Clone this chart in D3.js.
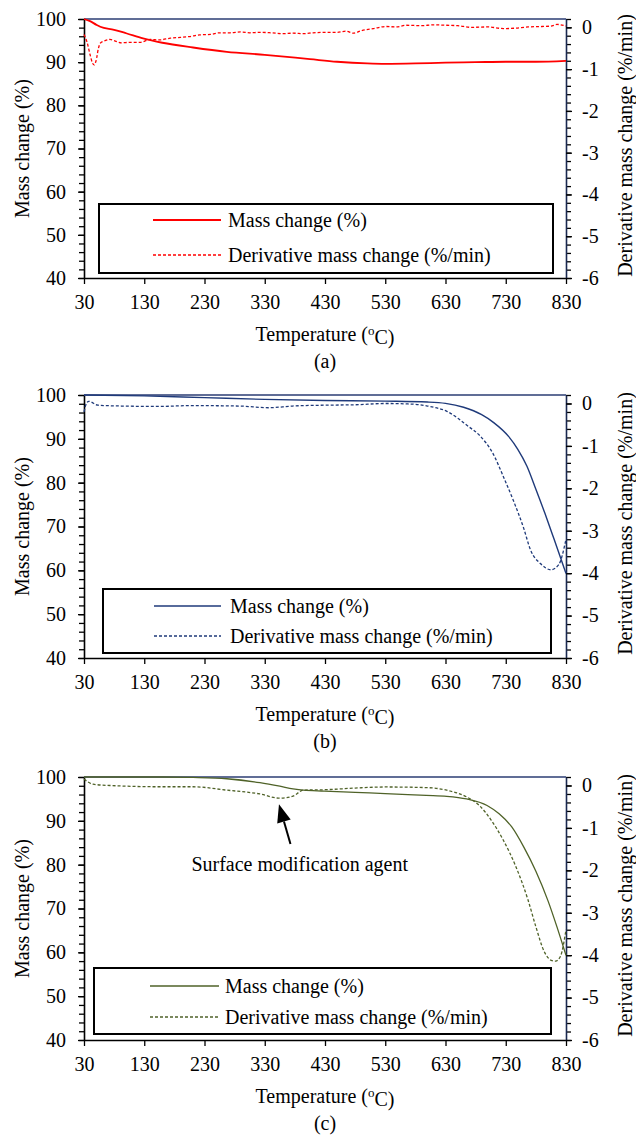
<!DOCTYPE html>
<html>
<head>
<meta charset="utf-8">
<script src="https://cdn.jsdelivr.net/npm/d3@7"></script>
<style>
  body { margin: 0; background: #fff; }
  text { font-family: "Liberation Serif", "Times New Roman", serif; fill: #000; }
</style>
</head>
<body>
<div id="chart"></div>
<script>
// axis ticks
var tempTicks = [30, 130, 230, 330, 430, 530, 630, 730, 830];
var massTicks = [40, 50, 60, 70, 80, 90, 100];
var derivTicks = [-6, -5, -4, -3, -2, -1, 0];

var legendLabels = ["Mass change (%)", "Derivative mass change (%/min)"];

// (a)
var massTempA = [30, 40, 50, 57, 80, 100, 128, 160, 211, 267, 330, 405, 450, 500, 530, 580, 630, 680, 730, 780, 830];
var massA = [100, 99.5, 98.7, 98.2, 97.5, 96.7, 95.5, 94.5, 93.4, 92.4, 91.7, 90.7, 90.1, 89.7, 89.6, 89.7, 89.9, 90.0, 90.1, 90.1, 90.3];
var derivTempA = [30, 35, 40, 44, 47, 50, 54, 57, 65, 73, 82, 92, 105, 123, 140, 155, 173, 190, 205, 222, 240, 255, 272, 290, 305, 322, 340, 360, 377, 395, 410, 430, 450, 465, 477, 490, 510, 531, 548, 565, 590, 610, 632, 650, 673, 700, 727, 745, 767, 790, 805, 815, 830];
var derivA = [-0.17, -0.35, -0.65, -0.85, -0.90, -0.80, -0.50, -0.38, -0.32, -0.29, -0.33, -0.37, -0.36, -0.36, -0.29, -0.30, -0.26, -0.24, -0.22, -0.18, -0.17, -0.13, -0.13, -0.11, -0.13, -0.12, -0.13, -0.15, -0.14, -0.15, -0.13, -0.12, -0.12, -0.09, -0.14, -0.08, -0.03, 0.02, 0.01, 0.05, 0.04, 0.06, 0.05, 0.04, 0.0, 0.01, -0.03, -0.02, 0.01, 0.02, 0.03, 0.07, 0.03];

// (b)
var massTempB = [30, 130, 230, 330, 430, 530, 600, 630, 660, 690, 710, 735, 750, 765, 780, 795, 810, 830];
var massB = [100, 99.8, 99.4, 99.0, 98.75, 98.6, 98.4, 98.1, 97.2, 95.5, 93.7, 90.5, 87.6, 83.8, 78.5, 73.0, 67.2, 59.3];
var derivTempB = [30, 34, 38, 53, 92, 153, 208, 287, 337, 376, 429, 480, 531, 565, 580, 600, 633, 667, 687, 708, 728, 743, 760, 771, 788, 805, 818, 830];
var derivB = [-0.2, 0.0, 0.05, -0.04, -0.06, -0.07, -0.05, -0.06, -0.10, -0.06, -0.04, -0.03, 0.0, -0.01, -0.02, -0.06, -0.19, -0.53, -0.76, -1.16, -1.79, -2.3, -2.95, -3.45, -3.78, -3.92, -3.8, -3.2];

// (c)
var massTempC = [30, 100, 160, 211, 267, 322, 355, 377, 394, 429, 480, 530, 598, 632, 665, 699, 719, 740, 760, 780, 800, 815, 830];
var massC = [100, 100, 100, 99.9, 99.6, 98.7, 97.9, 97.3, 97.0, 96.8, 96.5, 96.2, 95.8, 95.6, 95.0, 93.5, 91.6, 88.6, 84.0, 78.5, 71.8, 65.8, 59.3];
var derivTempC = [30, 45, 73, 156, 211, 267, 322, 355, 377, 394, 429, 480, 530, 598, 632, 665, 686, 706, 726, 747, 767, 780, 794, 807, 813, 821, 830];
var derivC = [0.15, 0.03, 0.0, -0.03, -0.03, -0.11, -0.20, -0.30, -0.25, -0.11, -0.10, -0.06, -0.035, -0.05, -0.11, -0.27, -0.47, -0.82, -1.29, -1.92, -2.70, -3.33, -3.92, -4.13, -4.14, -4.02, -3.4];

// annotation in (c): text position and arrow (temperature, mass %)
var annoText = "Surface modification agent";
var annoTextAt = [388, 80.2];
var annoArrowFrom = [372.7, 84.7];
var annoArrowTo = [353.6, 93.8];

var W = 636, H = 1135;
var left = 84, right = 566;

var panels = [
  {label: "(a)", top: 19, h: 259, color: "#ff0000", sw: 1.8,
   massT: massTempA, mass: massA, derivT: derivTempA, deriv: derivA,
   legend: {x0: 99, x1: 553, y0: 204, y1: 273, rows: [220, 255], s0: 153, s1: 221, tx: 228}},
  {label: "(b)", top: 395, h: 263, color: "#1f3a7a", sw: 1.4,
   massT: massTempB, mass: massB, derivT: derivTempB, deriv: derivB,
   legend: {x0: 103, x1: 551, y0: 589, y1: 653, rows: [606, 636], s0: 154, s1: 221, tx: 230}},
  {label: "(c)", top: 777, h: 263, color: "#4f6228", sw: 1.3,
   massT: massTempC, mass: massC, derivT: derivTempC, deriv: derivC,
   legend: {x0: 94, x1: 551, y0: 968, y1: 1034, rows: [986, 1017], s0: 150, s1: 219, tx: 225},
   anno: true}
];

var svg = d3.select("#chart").append("svg")
  .attr("width", W)
  .attr("height", H)
  .attr("font-family", "'Liberation Serif', 'Times New Roman', serif");

panels.forEach(function(p) {
  var bottom = p.top + p.h;
  var x = d3.scaleLinear().domain([30, 830]).range([left, right]);
  var yL = d3.scaleLinear().domain([40, 100]).range([bottom, p.top]);
  var yR = d3.scaleLinear().domain([-6, 0.2]).range([bottom, p.top]);

  var g = svg.append("g");

  // minor ticks
  g.append("g")
    .attr("transform", `translate(${left},0)`)
    .call(d3.axisLeft(yL).tickValues(d3.range(40, 100.1, 2)).tickSize(5).tickFormat(""))
    .call(s => s.select(".domain").remove())
    .selectAll("line").attr("stroke", "#000").attr("stroke-width", 1.3);
  g.append("g")
    .attr("transform", `translate(${right},0)`)
    .call(d3.axisRight(yR).tickValues(d3.range(-6, 0.21, 0.2)).tickSize(5).tickFormat(""))
    .call(s => s.select(".domain").remove())
    .selectAll("line").attr("stroke", "#000").attr("stroke-width", 1.3);

  // main axes
  var ax = g.append("g")
    .attr("transform", `translate(0,${bottom})`)
    .call(d3.axisBottom(x).tickValues(tempTicks).tickSize(6).tickSizeOuter(0).tickPadding(6));
  var ay = g.append("g")
    .attr("transform", `translate(${left},0)`)
    .call(d3.axisLeft(yL).tickValues(massTicks).tickSize(6).tickSizeOuter(0).tickPadding(12));
  var ar = g.append("g")
    .attr("transform", `translate(${right},0)`)
    .call(d3.axisRight(yR).tickValues(derivTicks).tickSize(6).tickSizeOuter(0).tickPadding(10)
      .tickFormat(d => String(d)));

  [ax, ay, ar].forEach(function(a) {
    a.attr("font-family", null);
    a.selectAll(".tick line").attr("stroke", "#000").attr("stroke-width", 1.3);
    a.select(".domain").attr("stroke", "#000").attr("stroke-width", 1.6);
    a.selectAll("text").style("font-size", "20px").attr("fill", "#000");
  });
  ax.selectAll("text").attr("dy", "0.95em");
  ar.select(".domain").attr("stroke", "#1a2850");

  // top frame
  g.append("line")
    .attr("x1", left).attr("x2", right)
    .attr("y1", p.top).attr("y2", p.top)
    .attr("stroke", "#2b3d73").attr("stroke-width", 1.5);

  var lineMass = d3.line()
    .x((d, i) => x(p.massT[i]))
    .y(d => yL(d))
    .curve(d3.curveMonotoneX);
  var lineDeriv = d3.line()
    .x((d, i) => x(p.derivT[i]))
    .y(d => yR(d))
    .curve(d3.curveMonotoneX);

  g.append("path")
    .datum(p.deriv)
    .attr("d", lineDeriv)
    .attr("fill", "none")
    .attr("stroke", p.color)
    .attr("stroke-width", 1.3)
    .attr("stroke-dasharray", "3,2");

  g.append("path")
    .datum(p.mass)
    .attr("d", lineMass)
    .attr("fill", "none")
    .attr("stroke", p.color)
    .attr("stroke-width", p.sw);

  // legend
  var L = p.legend;
  g.append("rect")
    .attr("x", L.x0).attr("y", L.y0)
    .attr("width", L.x1 - L.x0).attr("height", L.y1 - L.y0)
    .attr("fill", "#fff").attr("stroke", "#000").attr("stroke-width", 2);
  legendLabels.forEach(function(t, i) {
    g.append("line")
      .attr("x1", L.s0).attr("x2", L.s1)
      .attr("y1", L.rows[i]).attr("y2", L.rows[i])
      .attr("stroke", p.color)
      .attr("stroke-width", i === 0 ? p.sw : 1.3)
      .attr("stroke-dasharray", i === 0 ? null : "3,2");
    g.append("text")
      .attr("x", L.tx).attr("y", L.rows[i])
      .attr("dy", "0.35em")
      .style("font-size", "20px")
      .text(t);
  });

  // axis titles
  g.append("text")
    .attr("transform", `translate(22,${(p.top + bottom) / 2}) rotate(-90)`)
    .attr("text-anchor", "middle")
    .attr("dy", "0.35em")
    .style("font-size", "20px")
    .text("Mass change (%)");
  g.append("text")
    .attr("transform", `translate(625,${(p.top + bottom) / 2 - 3}) rotate(-90)`)
    .attr("text-anchor", "middle")
    .attr("dy", "0.35em")
    .style("font-size", "20px")
    .text("Derivative mass change (%/min)");
  var tt = g.append("text")
    .attr("x", (left + right) / 2).attr("y", bottom + 63)
    .attr("text-anchor", "middle")
    .style("font-size", "20px");
  tt.append("tspan").text("Temperature (");
  tt.append("tspan").attr("dy", "-0.45em").style("font-size", "13px").text("o");
  tt.append("tspan").attr("dy", "0.45em").text("C)");
  g.append("text")
    .attr("x", (left + right) / 2).attr("y", bottom + 90)
    .attr("text-anchor", "middle")
    .style("font-size", "20px")
    .text(p.label);

  if (p.anno) {
    var fx = x(annoArrowFrom[0]), fy = yL(annoArrowFrom[1]);
    var tx = x(annoArrowTo[0]), ty = yL(annoArrowTo[1]);
    var ang = Math.atan2(ty - fy, tx - fx);
    var hl = 18, hw = 7;
    var bx = tx - hl * Math.cos(ang), by = ty - hl * Math.sin(ang);
    g.append("line")
      .attr("x1", fx).attr("y1", fy).attr("x2", bx).attr("y2", by)
      .attr("stroke", "#000").attr("stroke-width", 2);
    g.append("path")
      .attr("d", d3.line()([
        [tx, ty],
        [bx + hw * Math.sin(ang), by - hw * Math.cos(ang)],
        [bx - hw * Math.sin(ang), by + hw * Math.cos(ang)]
      ]) + "Z")
      .attr("fill", "#000");
    g.append("text")
      .attr("x", x(annoTextAt[0])).attr("y", yL(annoTextAt[1]))
      .attr("text-anchor", "middle")
      .attr("dy", "0.35em")
      .style("font-size", "20px")
      .text(annoText);
  }
});
</script>
</body>
</html>
